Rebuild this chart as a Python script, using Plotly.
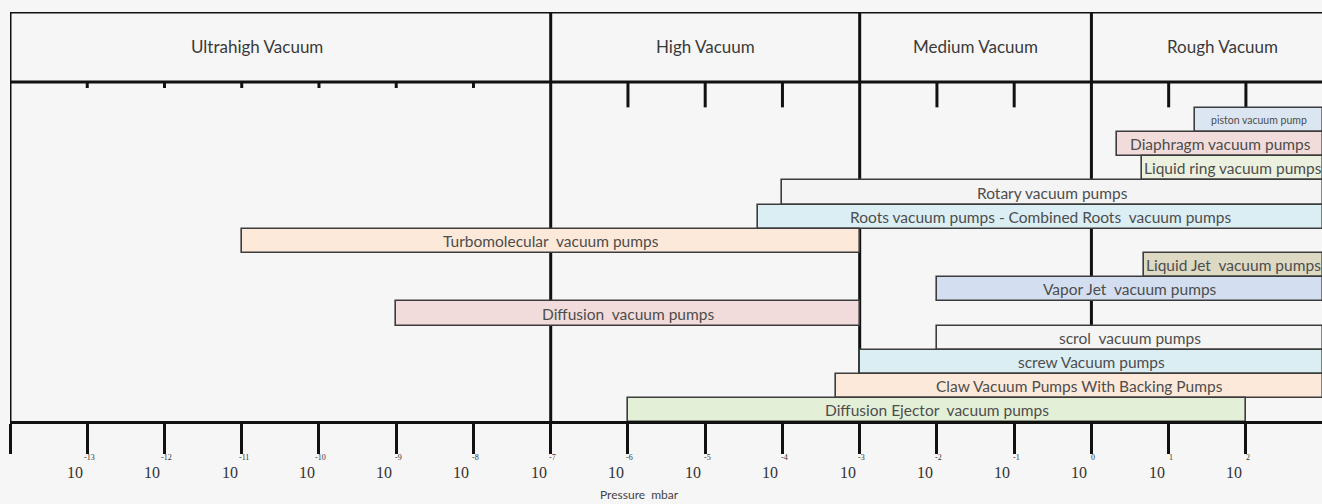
import plotly.graph_objects as go

# ---------------- data ----------------
pumps = [
    "piston vacuum pump",
    "Diaphragm vacuum pumps",
    "Liquid ring vacuum pumps",
    "Rotary vacuum pumps",
    "Roots vacuum pumps - Combined Roots  vacuum pumps",
    "Turbomolecular  vacuum pumps",
    "Liquid Jet  vacuum pumps",
    "Vapor Jet  vacuum pumps",
    "Diffusion  vacuum pumps",
    "scrol  vacuum pumps",
    "screw Vacuum pumps",
    "Claw Vacuum Pumps With Backing Pumps",
    "Diffusion Ejector  vacuum pumps",
]
# pressure range, log10(mbar)
low_exp = [1.34, 0.33, 0.66, -4.0, -4.32, -11.0, 0.68, -2.0, -9.0, -2.0, -3.0, -3.31, -6.0]
high_exp = [3.0, 3.0, 3.0, 3.0, 3.0, -3.0, 3.0, 3.0, -3.0, 3.0, 3.0, 3.0, 2.0]
bar_colors = ["#dce6f2", "#f2dcdb", "#ebf1de", "#f4f4f4", "#dbeef4", "#fde9d9",
              "#ddd9c3", "#d3dff0", "#f2dcdb", "#f4f4f4", "#dbeef4", "#fde9d9", "#e4efd8"]
label_sizes = [10.5, 15.5, 15.5, 15.5, 15.5, 15.5, 15.5, 15.5, 15.5, 15.5, 15.5, 15.5, 15.5]

tick_exps = list(range(-14, 4))
labelled_exps = list(range(-13, 3))   # 10^3 exponent falls off the right edge
regions = ["Ultrahigh Vacuum", "High Vacuum", "Medium Vacuum", "Rough Vacuum"]
region_bounds = [-14, -7, -3, 0, 3]
region_label_x = [-10.8, -5.0, -1.5, 1.7]
axis_title = "Pressure  mbar"

# ---------------- layout constants ----------------
X0, X1 = -14, 2.985
Y_TOP, Y_BOT = -4.46, 12.44      # row units, reversed axis
HEADER_LINE = -1.57
LINE = "#111111"
TXT = "#4d4d4d"
BG = "#f6f6f6"

rows = list(range(len(pumps)))

fig = go.Figure()
fig.add_trace(go.Bar(
    y=rows, x=[h - l for l, h in zip(low_exp, high_exp)], base=low_exp,
    orientation="h", width=1.0,
    marker=dict(color=bar_colors, line=dict(color="#3c3c3c", width=1.6)),
    hoverinfo="skip", showlegend=False,
))

annotations = []
for i, (name, l, h, s) in enumerate(zip(pumps, low_exp, high_exp, label_sizes)):
    annotations.append(dict(x=(l + h) / 2, y=i, xref="x", yref="y", text=name,
                            showarrow=False, font=dict(family="Lato", size=s, color=TXT)))

shapes = []
# top frame line and header line
for yy in (Y_TOP, HEADER_LINE):
    shapes.append(dict(type="line", xref="x", yref="y", x0=X0, x1=X1, y0=yy, y1=yy,
                       line=dict(color=LINE, width=3), layer="below"))
# left frame and region boundaries
for b in region_bounds[:-1]:
    shapes.append(dict(type="line", xref="x", yref="y", x0=b, x1=b, y0=Y_TOP, y1=Y_BOT,
                       line=dict(color=LINE, width=3), layer="below"))
# top ticks under header
for e in tick_exps:
    if e in region_bounds:
        continue
    length = 0.25 if e < -7 else 1.05
    shapes.append(dict(type="line", xref="x", yref="y", x0=e, x1=e,
                       y0=HEADER_LINE, y1=HEADER_LINE + length,
                       line=dict(color=LINE, width=3), layer="below"))

# region labels
for name, xl in zip(regions, region_label_x):
    annotations.append(dict(x=xl, y=(Y_TOP + HEADER_LINE) / 2, xref="x", yref="y", text=name,
                            showarrow=False, font=dict(family="Lato", size=17, color="#3a3a3a")))

# tick labels 10^n
for e in tick_exps[1:]:
    annotations.append(dict(x=e, y=0, xref="x", yref="paper", text="10", showarrow=False,
                            xshift=-12, yshift=-51, yanchor="middle",
                            font=dict(family="Liberation Serif", size=16, color="#333333")))
for e in labelled_exps:
    annotations.append(dict(x=e, y=0, xref="x", yref="paper", text=str(e), showarrow=False,
                            xshift=2, yshift=-36, yanchor="middle",
                            font=dict(family="Liberation Serif", size=8, color="#333333")))

annotations.append(dict(x=0.48, y=0, xref="paper", yref="paper", text=axis_title,
                        showarrow=False, yshift=-73, yanchor="middle",
                        font=dict(family="Lato", size=12, color="#444444")))

fig.update_layout(
    width=1322, height=504,
    margin=dict(l=10, r=0, t=12, b=83),
    paper_bgcolor=BG, plot_bgcolor=BG,
    bargap=0,
    shapes=shapes, annotations=annotations,
    xaxis=dict(range=[X0, X1], showgrid=False, zeroline=False,
               showline=True, linecolor=LINE, linewidth=3,
               ticks="outside", tickvals=tick_exps, ticklen=30, tickwidth=3, tickcolor=LINE,
               showticklabels=False, fixedrange=True),
    yaxis=dict(range=[Y_BOT, Y_TOP], showgrid=False, zeroline=False, showline=False,
               showticklabels=False, ticks="", fixedrange=True),
)

fig.write_html("out.html", config={"displayModeBar": False},
               post_script="document.body.style.margin='0';document.body.style.overflow='hidden';document.body.style.background='%s';" % BG)
